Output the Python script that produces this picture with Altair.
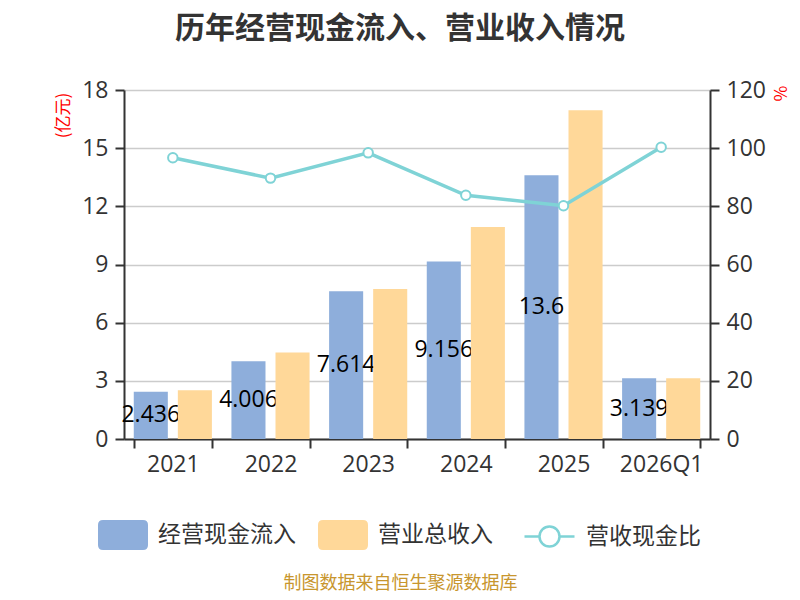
import altair as alt
import pandas as pd

years = ["2021", "2022", "2023", "2024", "2025", "2026Q1"]
cash_in = [2.436, 4.006, 7.614, 9.156, 13.6, 3.139]
revenue = [2.52, 4.46, 7.74, 10.94, 16.96, 3.13]
ratio = [96.7, 89.7, 98.4, 83.8, 80.2, 100.3]
cash_labels = ["2.436", "4.006", "7.614", "9.156", "13.6", "3.139"]

S_CASH = "经营现金流入"
S_REV = "营业总收入"
S_RATIO = "营收现金比"
BLUE = "#8eaedb"
ORANGE = "#ffd899"
TEAL = "#7fd3d6"
FONT = "Noto Sans CJK SC"
NUM_FONT = "Open Sans"
DARK = "#333333"

cash_df = pd.DataFrame({"year": years, "series": [S_CASH] * len(years),
                        "value": cash_in, "label": cash_labels})
rev_df = pd.DataFrame({"year": years, "series": [S_REV] * len(years), "value": revenue})
line_df = pd.DataFrame({"year": years, "kind": [S_RATIO] * len(years), "ratio": ratio})

x_enc = alt.X(
    "year:N", sort=years,
    scale=alt.Scale(paddingInner=0.2, paddingOuter=0.1),
    axis=alt.Axis(
        title="制图数据来自恒生聚源数据库", titleColor="#c8962e", titleFontSize=18,
        titleFont=FONT, titleFontWeight="normal", titleX=276, titleY=144,
        titleAlign="center", titleBaseline="middle",
        tickBand="extent", labelAngle=0, labelFontSize=23, labelFont=NUM_FONT,
        labelColor=DARK, labelPadding=5, domainColor=DARK, domainWidth=2,
        tickColor=DARK, tickWidth=2, tickSize=9, grid=False,
    ),
)
xoff_enc = alt.XOffset("series:N", scale=alt.Scale(domain=[S_CASH, S_REV],
                                                   paddingInner=0.227, paddingOuter=0))

rect_path = ("M-0.8,-0.6L0.8,-0.6Q1,-0.6 1,-0.4L1,0.4Q1,0.6 0.8,0.6L-0.8,0.6"
             "Q-1,0.6 -1,0.4L-1,-0.4Q-1,-0.6 -0.8,-0.6Z")
line_path = ("M-1,0L-0.4,0M0.4,0L1,0M-0.4,0A0.4,0.4 0 1,1 0.4,0"
             "A0.4,0.4 0 1,1 -0.4,0Z")

bar_legend = alt.Legend(
    title=None, orient="none", direction="horizontal", legendX=-26, legendY=420,
    symbolType=rect_path, symbolSize=2500, symbolStrokeWidth=0,
    labelFontSize=23, labelFont=FONT, labelColor=DARK, labelOffset=10,
    columnPadding=22, padding=0,
)
line_legend = alt.Legend(
    title=None, orient="none", direction="horizontal", legendX=399, legendY=420,
    symbolType=line_path, symbolSize=2500, symbolStrokeWidth=2.5,
    symbolFillColor="#ffffff",
    labelFontSize=23, labelFont=FONT, labelColor=DARK, labelOffset=10, padding=0,
)

left_axis = alt.Axis(
    values=[0, 3, 6, 9, 12, 15, 18], title="(亿元)", titleColor="#ff0000",
    titleFont=FONT, titleFontSize=17, titleFontWeight="normal", titleAngle=-90,
    titleX=-61, titleY=25, titleAlign="center", titleBaseline="middle",
    grid=True, gridColor="#cccccc", gridWidth=1.5,
    domainColor=DARK, domainWidth=2, tickColor=DARK, tickWidth=2, tickSize=9,
    labelFontSize=23, labelFont=NUM_FONT, labelColor=DARK, labelPadding=7,
)
right_axis = alt.Axis(
    orient="right", values=[0, 20, 40, 60, 80, 100, 120], title="%",
    titleColor="#ff0000", titleFont=FONT, titleFontSize=17, titleFontWeight="normal",
    titleAngle=90, titleX=68, titleY=3, titleAlign="center", titleBaseline="middle",
    grid=False, domainColor=DARK, domainWidth=2, tickColor=DARK, tickWidth=2,
    tickSize=9, labelFontSize=23, labelFont=NUM_FONT, labelColor=DARK, labelPadding=7,
)
y_left_scale = alt.Scale(domain=[0, 18], nice=False)
color_enc = alt.Color("series:N",
                      scale=alt.Scale(domain=[S_CASH, S_REV], range=[BLUE, ORANGE]),
                      legend=bar_legend)

cash_bars = alt.Chart(cash_df).mark_bar().encode(
    x=x_enc, xOffset=xoff_enc,
    y=alt.Y("value:Q", scale=y_left_scale, axis=left_axis),
    color=color_enc,
)
labels = alt.Chart(cash_df).transform_calculate(half="datum.value / 2").mark_text(
    fontSize=23, color="#000000", align="center", baseline="middle", font=NUM_FONT
).encode(
    x=x_enc, xOffset=xoff_enc,
    y=alt.Y("half:Q", scale=y_left_scale, axis=left_axis),
    text="label:N",
)
rev_bars = alt.Chart(rev_df).mark_bar().encode(
    x=x_enc, xOffset=xoff_enc,
    y=alt.Y("value:Q", scale=y_left_scale, axis=left_axis),
    color=color_enc,
)
left = alt.layer(cash_bars, labels, rev_bars)

y_right = alt.Y("ratio:Q", scale=alt.Scale(domain=[0, 120], nice=False), axis=right_axis)
line = alt.Chart(line_df).mark_line(strokeWidth=3.5).encode(
    x=x_enc, y=y_right,
    stroke=alt.Stroke("kind:N", scale=alt.Scale(domain=[S_RATIO], range=[TEAL]),
                      legend=line_legend),
)
pts = alt.Chart(line_df).mark_point(filled=True, fill="#ffffff", stroke=TEAL,
                                    strokeWidth=2, size=90, opacity=1).encode(
    x=x_enc, y=y_right,
)
right = alt.layer(line, pts)

chart = alt.layer(left, right).resolve_scale(y="independent").properties(
    width=586, height=349,
    title=alt.TitleParams("历年经营现金流入、营业收入情况", fontSize=30, fontWeight="bold",
                          color=DARK, anchor="middle", dx=-17, offset=35, font=FONT,
                          limit=700),
    autosize=alt.AutoSizeParams(type="none"),
    padding={"left": 116, "top": 82, "right": 82, "bottom": 153},
).configure(font=FONT).configure_view(stroke=None)

chart.save("out.html", embed_options={"renderer": "svg", "actions": False})
